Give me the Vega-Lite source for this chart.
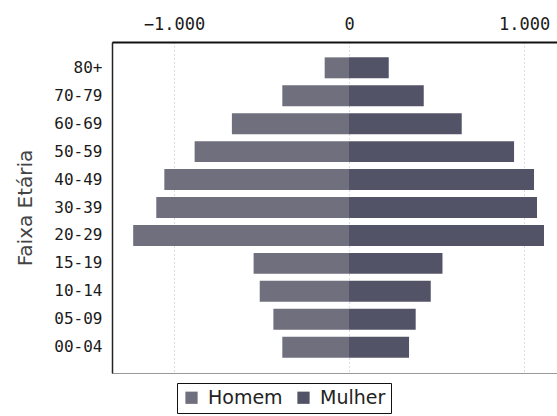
{
  "$schema": "https://vega.github.io/schema/vega-lite/v6.json",
  "width": 446,
  "height": 331,
  "padding": {"left": 112, "top": 42, "right": 0, "bottom": 43},
  "autosize": {"type": "none"},
  "background": "white",
  "config": {
    "view": {"stroke": "#999999", "strokeWidth": 1},
    "axis": {"labelFont": "DejaVu Sans Mono", "labelColor": "#1a1a1a"}
  },
  "data": {"values": [
    {"faixa": "80+", "sexo": "Homem", "valor": -139},
    {"faixa": "80+", "sexo": "Mulher", "valor": 227},
    {"faixa": "70-79", "sexo": "Homem", "valor": -381},
    {"faixa": "70-79", "sexo": "Mulher", "valor": 427},
    {"faixa": "60-69", "sexo": "Homem", "valor": -669},
    {"faixa": "60-69", "sexo": "Mulher", "valor": 644},
    {"faixa": "50-59", "sexo": "Homem", "valor": -882},
    {"faixa": "50-59", "sexo": "Mulher", "valor": 943},
    {"faixa": "40-49", "sexo": "Homem", "valor": -1055},
    {"faixa": "40-49", "sexo": "Mulher", "valor": 1057},
    {"faixa": "30-39", "sexo": "Homem", "valor": -1101},
    {"faixa": "30-39", "sexo": "Mulher", "valor": 1074},
    {"faixa": "20-29", "sexo": "Homem", "valor": -1233},
    {"faixa": "20-29", "sexo": "Mulher", "valor": 1114},
    {"faixa": "15-19", "sexo": "Homem", "valor": -545},
    {"faixa": "15-19", "sexo": "Mulher", "valor": 534},
    {"faixa": "10-14", "sexo": "Homem", "valor": -510},
    {"faixa": "10-14", "sexo": "Mulher", "valor": 467},
    {"faixa": "05-09", "sexo": "Homem", "valor": -432},
    {"faixa": "05-09", "sexo": "Mulher", "valor": 381},
    {"faixa": "00-04", "sexo": "Homem", "valor": -381},
    {"faixa": "00-04", "sexo": "Mulher", "valor": 343}
  ]},
  "mark": {"type": "bar"},
  "encoding": {
    "y": {
      "field": "faixa", "type": "nominal",
      "sort": ["80+", "70-79", "60-69", "50-59", "40-49", "30-39", "20-29", "15-19", "10-14", "05-09", "00-04"],
      "scale": {"paddingInner": 0.25, "paddingOuter": 0.55},
      "axis": {
        "title": "Faixa Etária", "titleFont": "DejaVu Sans", "titleFontSize": 20, "titleFontWeight": "normal",
        "titleColor": "#444444", "titlePadding": 18,
        "ticks": false, "labelPadding": 10, "labelFontSize": 16,
        "domainColor": "#222222", "domainWidth": 1.5
      }
    },
    "x": {
      "field": "valor", "type": "quantitative", "stack": null,
      "scale": {"domain": [-1354, 1194], "nice": false, "zero": false},
      "axis": {
        "orient": "top", "title": null, "values": [-1000, 0, 1000],
        "labelExpr": "replace(format(datum.value, ','), ',', '.')",
        "grid": true, "gridColor": "#bbbbbb", "gridDash": [1, 3], "gridWidth": 1,
        "domainColor": "#111111", "domainWidth": 2,
        "ticks": false, "labelPadding": 9, "labelFontSize": 17
      }
    },
    "color": {
      "field": "sexo", "type": "nominal",
      "scale": {"domain": ["Homem", "Mulher"], "range": ["#6f6f7d", "#535367"]},
      "legend": {
        "title": null, "orient": "none", "direction": "horizontal",
        "legendX": 65, "legendY": 341,
        "strokeColor": "#111111", "padding": 5,
        "symbolType": "square", "symbolSize": 150, "symbolStrokeWidth": 0,
        "labelFont": "DejaVu Sans", "labelFontSize": 19, "labelColor": "#222222",
        "columnPadding": 11, "labelOffset": 7
      }
    }
  }
}
